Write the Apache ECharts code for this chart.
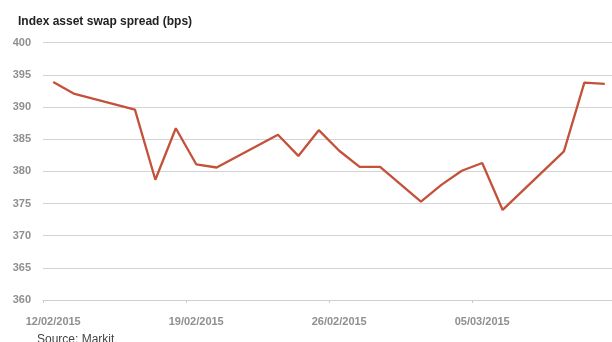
<!DOCTYPE html>
<html>
<head>
<meta charset="utf-8">
<script src="https://cdn.jsdelivr.net/npm/echarts@6/dist/echarts.min.js"></script>
<style>
  html, body { margin: 0; padding: 0; background: #fff; }
  #chart { width: 612px; height: 342px; }
</style>
</head>
<body>
<div id="chart"></div>
<script>
// calendar days from 12/02/2015 to 11/03/2015, null = no quote (weekend)
const dates = [
  '12/02/2015', '13/02/2015', '14/02/2015', '15/02/2015', '16/02/2015', '17/02/2015', '18/02/2015',
  '19/02/2015', '20/02/2015', '21/02/2015', '22/02/2015', '23/02/2015', '24/02/2015', '25/02/2015',
  '26/02/2015', '27/02/2015', '28/02/2015', '01/03/2015', '02/03/2015', '03/03/2015', '04/03/2015',
  '05/03/2015', '06/03/2015', '07/03/2015', '08/03/2015', '09/03/2015', '10/03/2015', '11/03/2015'
];
const spread = [
  393.9, 392.1, null, null, 389.6, 378.7, 386.7,
  381.1, 380.6, null, null, 385.7, 382.4, 386.4,
  383.2, 380.7, 380.7, null, 375.3, 377.9, 380.1,
  381.3, 374.0, null, null, 383.1, 393.8, 393.6
];
const yTicks = { min: 360, max: 400, step: 5 };

const chart = echarts.init(document.getElementById('chart'));

chart.setOption({
  animation: false,
  title: {
    text: 'Index asset swap spread (bps)',
    left: 13,
    top: 11,
    textStyle: {
      fontFamily: '"Liberation Sans", Arial, sans-serif',
      fontSize: 12,
      fontWeight: 'bold',
      color: '#222'
    }
  },
  graphic: [{
    type: 'text',
    left: 37,
    top: 334,
    style: {
      text: 'Source: Markit',
      font: '12px "Liberation Sans", Arial, sans-serif',
      fill: '#444'
    }
  }],
  // plot runs a little past the right edge, as in the original
  grid: { left: 43, width: 572, top: 42.7, bottom: 42, outerBoundsMode: 'none' },
  xAxis: {
    type: 'category',
    data: dates,
    boundaryGap: true,
    axisLine: { lineStyle: { color: '#cfcfcf', width: 1 } },
    axisTick: { show: true, interval: 6, length: 3, lineStyle: { color: '#c8c8c8' } },
    axisLabel: {
      interval: 6,
      margin: 16,
      fontSize: 11,
      fontWeight: 'bold',
      fontFamily: '"Liberation Sans", Arial, sans-serif',
      color: '#8f8f8f'
    },
    splitLine: { show: false }
  },
  yAxis: {
    type: 'value',
    min: yTicks.min,
    max: yTicks.max,
    interval: yTicks.step,
    axisLine: { show: false },
    axisTick: { show: false },
    axisLabel: {
      margin: 12,
      fontSize: 11,
      fontWeight: 'bold',
      fontFamily: '"Liberation Sans", Arial, sans-serif',
      color: '#8f8f8f'
    },
    splitLine: { lineStyle: { color: '#d3d3d3', width: 1 } }
  },
  series: [{
    type: 'line',
    data: spread,
    connectNulls: true,
    symbol: 'none',
    lineStyle: { color: '#c4513a', width: 2.3 }
  }]
});
</script>
</body>
</html>
